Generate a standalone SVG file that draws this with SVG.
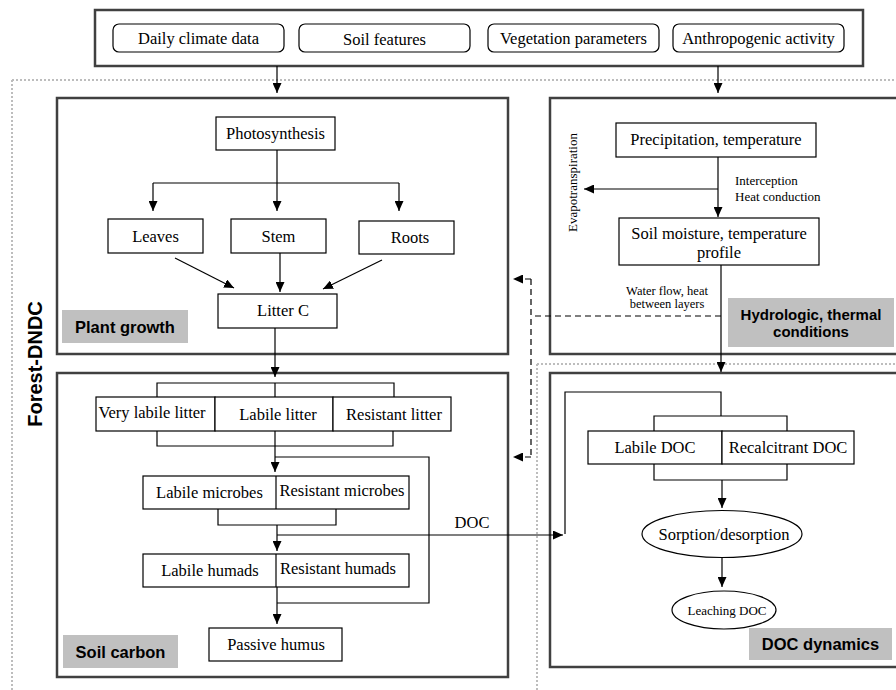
<svg xmlns="http://www.w3.org/2000/svg" width="896" height="690" viewBox="0 0 896 690">
<style>
.frame{fill:none;stroke:#404040;stroke-width:2.5}
.box{fill:#fff;stroke:#000;stroke-width:1.2}
.dot{fill:none;stroke:#bdbdbd;stroke-width:2;stroke-dasharray:2,2}
.ln{fill:none;stroke:#000;stroke-width:1.2}
.dash{fill:none;stroke:#000;stroke-width:1.2;stroke-dasharray:6,4}
.t{font-family:"Liberation Serif","Times New Roman",serif;font-size:16.5px;fill:#000;text-anchor:middle}
.s{font-family:"Liberation Serif","Times New Roman",serif;font-size:13px;fill:#000}
.lab{fill:#c0c0c0}
.b{font-family:"Liberation Sans",Arial,sans-serif;font-weight:bold;font-size:16.5px;fill:#000;text-anchor:middle}
</style>
<defs>
<marker id="ah" markerUnits="userSpaceOnUse" markerWidth="10" markerHeight="9" refX="10" refY="4.5" orient="auto">
<path d="M0,0 L10,4.5 L0,9 z" fill="#000"/>
</marker>
</defs>
<rect width="896" height="690" fill="#fff"/>

<g id="boundary">
<path class="dot" d="M12,80 H896 M12,80 V690 M537,364 H896 M537,364 V690"/>
<text class="b" style="font-size:20px" transform="translate(42,364) rotate(-90)">Forest-DNDC</text>
</g>

<g id="inputs">
<rect class="frame" x="95" y="10" width="768" height="56"/>
<rect class="box" x="113" y="24" width="171" height="28" rx="6"/>
<text class="t" x="198.5" y="44">Daily climate data</text>
<rect class="box" x="299" y="24" width="171" height="28" rx="6"/>
<text class="t" x="384.5" y="44.5">Soil features</text>
<rect class="box" x="488" y="24" width="171" height="28" rx="6"/>
<text class="t" x="573.5" y="44">Vegetation parameters</text>
<rect class="box" x="673" y="24" width="171" height="28" rx="6"/>
<text class="t" x="758.5" y="44">Anthropogenic activity</text>
</g>

<g id="plant-growth">
<rect class="frame" x="57" y="98" width="451" height="256"/>
<rect class="lab" x="62" y="310" width="126" height="33"/>
<text class="b" x="125" y="332.5">Plant growth</text>
</g>
<g id="photosynthesis"><rect class="box" x="216" y="117" width="119" height="33"/><text class="t" x="275.5" y="139">Photosynthesis</text></g>
<g id="leaves"><rect class="box" x="108" y="219" width="95" height="34"/><text class="t" x="155.5" y="241.5">Leaves</text></g>
<g id="stem"><rect class="box" x="231" y="219" width="95" height="34"/><text class="t" x="278.5" y="241.5">Stem</text></g>
<g id="roots"><rect class="box" x="359" y="221" width="95" height="33"/><text class="t" x="410" y="243">Roots</text></g>
<g id="litter-c"><rect class="box" x="218" y="294" width="119" height="34"/><text class="t" x="283" y="316">Litter C</text></g>

<g id="hydrologic">
<rect class="frame" x="550" y="98" width="360" height="256"/>
<rect class="lab" x="728" y="298" width="166" height="49"/>
<text class="b" style="font-size:15px" x="811" y="320">Hydrologic, thermal</text>
<text class="b" style="font-size:15px" x="811" y="337">conditions</text>
<text class="s" text-anchor="middle" transform="translate(577,182.5) rotate(-90)">Evapotranspiration</text>
<text class="s" x="735" y="185">Interception</text>
<text class="s" x="735" y="201">Heat conduction</text>
<text class="s" style="font-size:12.5px" text-anchor="middle" x="667" y="294.5">Water flow, heat</text>
<text class="s" style="font-size:12.5px" text-anchor="middle" x="667" y="308">between layers</text>
</g>
<g id="precipitation"><rect class="box" x="616" y="123" width="200" height="34"/><text class="t" x="716" y="145">Precipitation, temperature</text></g>
<g id="soil-moisture"><rect class="box" x="619" y="218" width="200" height="47"/><text class="t" x="719" y="239">Soil moisture, temperature</text><text class="t" x="719" y="258">profile</text></g>

<g id="soil-carbon">
<rect class="frame" x="57" y="373" width="451" height="304"/>
<rect class="lab" x="63" y="635" width="115" height="33"/>
<text class="b" x="120.5" y="657.5">Soil carbon</text>
</g>
<g id="litter-pools">
<rect class="box" x="96" y="397" width="119" height="34"/><text class="t" x="152" y="418">Very labile litter</text>
<rect class="box" x="215" y="397" width="118" height="34"/><text class="t" x="278" y="420">Labile litter</text>
<rect class="box" x="333" y="397" width="118" height="34"/><text class="t" x="394" y="420">Resistant litter</text>
</g>
<g id="microbes">
<rect class="box" x="143" y="476" width="266" height="33"/><path class="ln" d="M276,476 V509"/>
<text class="t" x="209.5" y="498">Labile microbes</text>
<text class="t" x="342" y="496">Resistant microbes</text>
</g>
<g id="humads">
<rect class="box" x="143" y="554" width="266" height="33"/><path class="ln" d="M276,554 V587"/>
<text class="t" x="210" y="576">Labile humads</text>
<text class="t" x="338" y="574">Resistant humads</text>
</g>
<g id="passive-humus"><rect class="box" x="209" y="628" width="133" height="33"/><text class="t" x="276" y="650">Passive humus</text></g>

<g id="doc-dynamics">
<rect class="frame" x="550" y="373" width="360" height="294"/>
<rect class="lab" x="749" y="628" width="143" height="32"/>
<text class="b" x="820.5" y="650">DOC dynamics</text>
</g>
<g id="doc-pools">
<rect class="box" x="588" y="431" width="134" height="33"/><text class="t" x="655" y="453">Labile DOC</text>
<rect class="box" x="722" y="431" width="132" height="33"/><text class="t" x="788" y="453">Recalcitrant DOC</text>
</g>
<g id="sorption"><ellipse class="box" cx="722" cy="534" rx="80" ry="23.5"/><text class="t" x="724" y="540">Sorption/desorption</text></g>
<g id="leaching"><ellipse class="box" cx="724" cy="610" rx="52" ry="19"/><text class="s" text-anchor="middle" x="727" y="614.5">Leaching DOC</text></g>

<g id="connectors">
<path class="ln" d="M277,66 V93" marker-end="url(#ah)"/>
<path class="ln" d="M718,66 V93" marker-end="url(#ah)"/>
<path class="ln" d="M277,150 V211" marker-end="url(#ah)"/>
<path class="ln" d="M153,183 H399"/>
<path class="ln" d="M153,183 V211" marker-end="url(#ah)"/>
<path class="ln" d="M399,183 V211" marker-end="url(#ah)"/>
<path class="ln" d="M175,258 L234,288" marker-end="url(#ah)"/>
<path class="ln" d="M280,253 V292" marker-end="url(#ah)"/>
<path class="ln" d="M382,260 L323,289" marker-end="url(#ah)"/>
<path class="ln" d="M275,328 V377" marker-end="url(#ah)"/>
<path class="ln" d="M718,157 V217" marker-end="url(#ah)"/>
<path class="ln" d="M718,189 H584" marker-end="url(#ah)"/>
<path class="ln" d="M721,265 V372" marker-end="url(#ah)"/>
<path class="dash" d="M721,316 H531 M531,279 V457"/>
<path class="dash" d="M531,279 H513" marker-end="url(#ah)"/>
<path class="dash" d="M531,457 H513" marker-end="url(#ah)"/>
<path class="ln" d="M157,397 V383 H394 V397 M275,383 V397"/>
<path class="ln" d="M157,431 V446 H393 V431"/>
<path class="ln" d="M275,431 V472" marker-end="url(#ah)"/>
<path class="ln" d="M275,457 H429 V603 H277"/>
<path class="ln" d="M218,509 V525 H336 V509"/>
<path class="ln" d="M277,525 V551" marker-end="url(#ah)"/>
<path class="ln" d="M277,535 H563" marker-end="url(#ah)"/>
<text class="t" x="472" y="528">DOC</text>
<path class="ln" d="M277,587 V624" marker-end="url(#ah)"/>
<path class="ln" d="M565,534 V392 H721 V416"/>
<path class="ln" d="M654,431 V416 H787 V431"/>
<path class="ln" d="M654,464 V480 H787 V464"/>
<path class="ln" d="M722,480 V508" marker-end="url(#ah)"/>
<path class="ln" d="M722,557 V587" marker-end="url(#ah)"/>
</g>
</svg>
